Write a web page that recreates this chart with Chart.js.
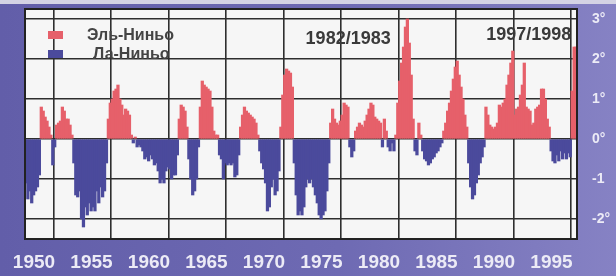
<!DOCTYPE html>
<html>
<head>
<meta charset="utf-8">
<script src="https://cdn.jsdelivr.net/npm/chart.js@4.4.1/dist/chart.umd.min.js"></script>
<style>
  html, body { margin: 0; padding: 0; }
  body {
    width: 616px; height: 276px; overflow: hidden;
    background: linear-gradient(to right, #625ea9, #6e6ab3 55%, #8682c4);
  }
  #wrap { position: relative; width: 616px; height: 276px; }
  #wrap::before {
    content: ''; position: absolute; left: 0; top: 0; right: 0; height: 4px;
    background: #d4d3e4;
  }
  canvas { display: block; }
</style>
</head>
<body>
<div id="wrap"><canvas id="enso" width="616" height="276"></canvas></div>
<script>
// ENSO index, 6 values per year (two-month steps), 1950 .. 1997
const startYear = 1950;
const perYear = 6;
const ensoIndex = [
  -1.1, -1.5, -1.3, -1.6, -1.4, -1.3,   // 1950
  -1.2, -0.9, 0.8, 0.7, 0.55, 0.45,     // 1951
  0.3, 0.1, -0.65, -0.2, 0.35, 0.4,     // 1952
  0.45, 0.8, 0.7, 0.5, 0.5, 0.35,       // 1953
  0.1, -0.6, -1.4, -1.45, -1.3, -2.0,   // 1954
  -2.2, -1.7, -1.9, -1.6, -1.8, -1.7,   // 1955
  -1.8, -1.3, -1.6, -1.2, -1.45, -1.3,  // 1956
  -0.6, 0.5, 0.9, 1.0, 1.2, 1.25,       // 1957
  1.35, 1.0, 0.85, 0.6, 0.75, 0.7,      // 1958
  0.6, 0.1, -0.1, 0.05, -0.2, -0.15,    // 1959
  -0.2, -0.3, -0.5, -0.45, -0.55, -0.4, // 1960
  -0.5, -0.65, -0.6, -0.8, -1.1, -1.0,  // 1961
  -1.1, -0.8, -0.7, -0.75, -1.0, -0.9,  // 1962
  -0.9, -0.4, 0.5, 0.85, 0.8, 0.7,      // 1963
  0.3, -0.5, -1.0, -1.4, -1.3, -1.0,    // 1964
  -0.2, 0.8, 1.45, 1.35, 1.3, 1.25,     // 1965
  1.2, 0.8, 0.2, 0.1, 0.1, -0.4,        // 1966
  -0.5, -1.0, -0.6, -0.65, -0.6, -0.65, // 1967
  -0.6, -0.95, -0.9, -0.4, 0.3, 0.6,    // 1968
  0.8, 0.7, 0.65, 0.6, 0.55, 0.5,       // 1969
  0.4, 0.1, -0.3, -0.6, -0.75, -1.1,    // 1970
  -1.8, -1.7, -1.2, -1.0, -1.4, -1.3,   // 1971
  -0.8, 0.3, 1.1, 1.6, 1.75, 1.7,       // 1972
  1.65, 1.3, -0.6, -1.4, -1.9, -1.8,    // 1973
  -1.9, -1.7, -1.2, -1.0, -1.1, -1.0,   // 1974
  -1.2, -1.4, -1.6, -1.9, -2.0, -1.9,   // 1975
  -1.8, -1.3, -0.6, 0.4, 0.75, 0.5,     // 1976
  0.4, 0.35, 0.45, 0.6, 0.9, 0.85,      // 1977
  0.8, -0.2, -0.45, -0.3, 0.2, 0.3,     // 1978
  0.4, 0.35, 0.3, 0.45, 0.6, 0.75,      // 1979
  0.9, 0.85, 0.55, 0.5, 0.45, 0.4,      // 1980
  -0.2, 0.5, 0.2, -0.2, -0.3, -0.1,     // 1981
  -0.3, 0.1, 0.9, 1.45, 1.9, 2.3,       // 1982
  2.8, 3.0, 2.4, 1.6, 0.5, -0.3,        // 1983
  -0.4, 0.4, 0.1, -0.3, -0.5, -0.55,    // 1984
  -0.65, -0.6, -0.5, -0.45, -0.35, -0.3,// 1985
  -0.2, -0.1, 0.2, 0.4, 0.7, 0.9,       // 1986
  1.2, 1.5, 1.8, 1.95, 1.6, 1.3,        // 1987
  1.0, 0.6, 0.3, -0.6, -1.2, -1.5,      // 1988
  -1.4, -1.1, -0.9, -0.6, -0.45, -0.2,  // 1989
  0.8, 0.6, 0.35, 0.3, 0.25, 0.3,       // 1990
  0.4, 0.85, 0.8, 0.9, 1.0, 1.35,       // 1991
  1.6, 1.9, 2.2, 0.6, 0.75, 0.8,        // 1992
  1.1, 1.35, 1.9, 0.8, 0.75, 0.7,       // 1993
  0.35, 0.4, 0.75, 0.8, 0.85, 1.25,     // 1994
  1.25, 1.0, 0.5, 0.3, -0.3, -0.55,     // 1995
  -0.6, -0.4, -0.55, -0.3, -0.5, -0.35, // 1996
  -0.5, -0.35, -0.45, 1.2, 2.3, 2.3     // 1997
];

const yearTicks = [1950, 1955, 1960, 1965, 1970, 1975, 1980, 1985, 1990, 1995];
const degreeTicks = [-2, -1, 0, 1, 2, 3];
const degreeLabels = ['-2°', '-1', '0°', '1°', '2°', '3°'];
const seriesNames = ['Эль-Ниньо', 'Ла-Ниньо'];
const eventLabels = [
  { text: '1982/1983', year: 1978.1, value: 2.5 },
  { text: '1997/1998', year: 1993.8, value: 2.6 }
];

const RED = '#e6606a';
const BLUE = '#4b4a9c';
const GRID = '#2e2e2e';
const FRAME_TEXT = '#ecebf6';

const points = ensoIndex.map((v, i) => ({ x: startYear + (i + 0.5) / perYear, y: v }));

// white plot area behind the bars, dark frame on top
const plotBackground = {
  id: 'plotBackground',
  beforeDraw(chart) {
    const { ctx, chartArea: a } = chart;
    ctx.save();
    ctx.fillStyle = '#f6f6f6';
    ctx.fillRect(a.left, a.top, a.right - a.left, a.bottom - a.top);
    ctx.restore();
  },
  afterDraw(chart) {
    const { ctx, chartArea: a } = chart;
    ctx.save();
    ctx.strokeStyle = '#222';
    ctx.lineWidth = 2;
    ctx.strokeRect(a.left, a.top, a.right - a.left, a.bottom - a.top);
    ctx.restore();
  }
};

// legend inside the plot and the event captions
const insideText = {
  id: 'insideText',
  afterDatasetsDraw(chart) {
    const { ctx, scales } = chart;
    const colors = [RED, BLUE];
    ctx.save();
    ctx.textBaseline = 'middle';
    ctx.font = 'bold 16px "Liberation Sans", Arial, sans-serif';
    seriesNames.forEach((name, i) => {
      const y = 35 + i * 19;
      ctx.fillStyle = colors[i];
      ctx.fillRect(48, y - 4, 15, 8);
      ctx.fillStyle = '#444';
      ctx.textAlign = 'left';
      ctx.fillText(name, i === 0 ? 87 : 93, y + 1);
    });
    ctx.font = 'bold 18px "Liberation Sans", Arial, sans-serif';
    ctx.fillStyle = '#3a3a3a';
    ctx.textAlign = 'center';
    eventLabels.forEach(e => {
      ctx.fillText(e.text, scales.x.getPixelForValue(e.year), scales.y.getPixelForValue(e.value));
    });
    ctx.restore();
  }
};

new Chart(document.getElementById('enso'), {
  type: 'bar',
  data: {
    datasets: [{
      label: 'ENSO',
      data: points,
      backgroundColor: points.map(p => (p.y >= 0 ? RED : BLUE)),
      borderWidth: 0,
      barThickness: 2.6
    }]
  },
  options: {
    responsive: false,
    devicePixelRatio: 1,
    animation: false,
    layout: { padding: { left: 25, top: 9, right: 0, bottom: 0 } },
    plugins: {
      legend: { display: false },
      tooltip: { enabled: false }
    },
    scales: {
      x: {
        type: 'linear',
        min: 1950,
        max: 1998,
        offset: false,
        afterBuildTicks: (scale) => { scale.ticks = yearTicks.map(v => ({ value: v })); },
        afterFit: (scale) => {
          scale.height = 37;
          scale.paddingLeft = 0;
          scale.paddingRight = 0;
        },
        grid: { color: GRID, lineWidth: 1.6, drawTicks: false },
        border: { display: false },
        ticks: {
          autoSkip: false,
          maxRotation: 0,
          padding: 12,
          labelOffset: 9,
          color: FRAME_TEXT,
          font: { family: '"Liberation Sans", Arial, sans-serif', size: 19, weight: 'bold' },
          callback: (v) => String(v)
        }
      },
      y: {
        position: 'right',
        min: -2.5,
        max: 3.25,
        afterBuildTicks: (scale) => { scale.ticks = degreeTicks.map(v => ({ value: v })); },
        afterFit: (scale) => {
          scale.width = 39;
          scale.paddingTop = 0;
          scale.paddingBottom = 0;
        },
        grid: { color: GRID, lineWidth: 1.6, drawTicks: false },
        border: { display: false },
        ticks: {
          padding: 15,
          color: FRAME_TEXT,
          font: { family: '"Liberation Sans", Arial, sans-serif', size: 14, weight: 'bold' },
          callback: (v) => degreeLabels[degreeTicks.indexOf(v)]
        }
      }
    }
  },
  plugins: [plotBackground, insideText]
});
</script>
</body>
</html>
